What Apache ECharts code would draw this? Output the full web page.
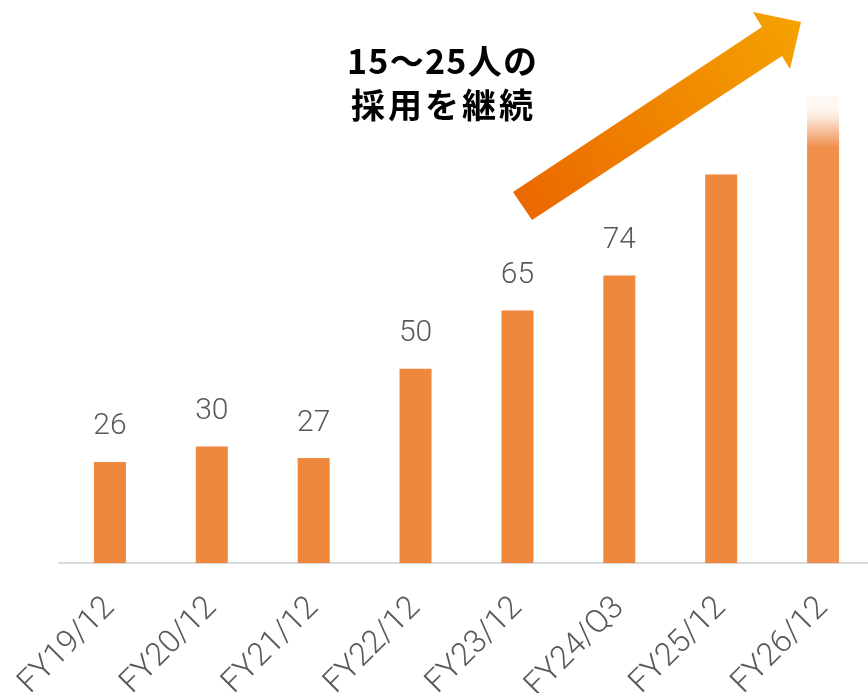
<!DOCTYPE html>
<html>
<head>
<meta charset="utf-8">
<script src="https://cdn.jsdelivr.net/npm/echarts@6/dist/echarts.min.js"></script>
<style>
html,body{margin:0;padding:0;background:#fff;}
#c{width:868px;height:693px;}
</style>
</head>
<body>
<div id="c"></div>
<script>
var categories = ['FY19/12','FY20/12','FY21/12','FY22/12','FY23/12','FY24/Q3','FY25/12','FY26/12'];
var values = [26, 30, 27, 50, 65, 74, 100, 120];
var showLabel = [true, true, true, true, true, true, false, false];
var annotation = ['15～25人の', '採用を継続'];

var barColor = '#EF873D';
var data = values.map(function (v, i) {
  var item = { value: v, label: { show: showLabel[i] } };
  if (i === values.length - 1) {
    item.itemStyle = {
      color: new echarts.graphic.LinearGradient(0, 0, 0, 1, [
        { offset: 0, color: 'rgba(240,140,75,0.08)' },
        { offset: 0.02, color: 'rgba(240,140,75,0.05)' },
        { offset: 0.04, color: 'rgba(240,140,75,0.15)' },
        { offset: 0.11, color: 'rgba(240,142,75,1)' },
        { offset: 1, color: 'rgba(240,142,75,1)' }
      ])
    };
  }
  return item;
});

// annotation text laid out char by char to fit the reference line widths
var annFont = 'bold 34px "Noto Sans CJK JP", sans-serif';
var ctx = document.createElement('canvas').getContext('2d');
ctx.font = annFont;
var lineSpecs = [
  { text: annotation[0], cx: 442, cy: 61, w: 190 },
  { text: annotation[1], cx: 442, cy: 105, w: 182 }
];
var annGraphics = [];
lineSpecs.forEach(function (ln) {
  var chars = Array.from(ln.text);
  var widths = chars.map(function (ch) { return ctx.measureText(ch).width; });
  var sum = widths.reduce(function (a, b) { return a + b; }, 0);
  var ls = Math.max(0, (ln.w - sum) / (chars.length - 1));
  var total = sum + ls * (chars.length - 1);
  var x = ln.cx - total / 2;
  chars.forEach(function (ch, k) {
    annGraphics.push({
      type: 'text',
      x: x,
      y: ln.cy,
      style: {
        text: ch,
        font: annFont,
        fill: '#000000',
        align: 'left',
        verticalAlign: 'middle'
      }
    });
    x += widths[k] + ls;
  });
});

var chart = echarts.init(document.getElementById('c'), null, { renderer: 'canvas' });
chart.setOption({
  animation: false,
  backgroundColor: '#ffffff',
  grid: { left: 59, right: -6, top: 19, bottom: 130, containLabel: false, outerBoundsMode: 'none' },
  xAxis: {
    type: 'category',
    data: categories,
    axisLine: { show: true, lineStyle: { color: '#d9d9d9', width: 2 } },
    axisTick: { show: false },
    axisLabel: {
      rotate: 45,
      margin: 40,
      color: '#595959',
      fontSize: 32,
      fontWeight: 300,
      fontFamily: 'Roboto, "Noto Sans", sans-serif',
      interval: 0
    }
  },
  yAxis: {
    type: 'value',
    min: 0,
    max: 140,
    show: false,
    splitLine: { show: false }
  },
  series: [{
    type: 'bar',
    data: data,
    barWidth: 32,
    itemStyle: { color: barColor },
    label: {
      position: 'top',
      distance: 20,
      color: '#595959',
      fontSize: 30,
      fontWeight: 300,
      fontFamily: 'Roboto, "Noto Sans", sans-serif'
    }
  }],
  graphic: [
    {
      type: 'polygon',
      shape: {
        points: [
          [513, 192], [762, 27], [753, 12], [801, 22], [790, 69], [782, 56], [532, 220]
        ]
      },
      style: {
        fill: new echarts.graphic.LinearGradient(0, 1, 1, 0, [
          { offset: 0, color: '#EA6500' },
          { offset: 1, color: '#F5A300' }
        ])
      }
    }
  ].concat(annGraphics)
});
</script>
</body>
</html>
